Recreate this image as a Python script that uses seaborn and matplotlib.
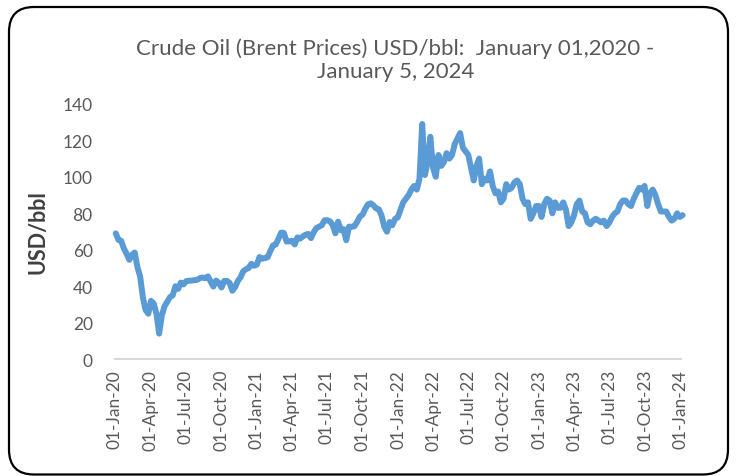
import pandas as pd
import numpy as np
import seaborn as sns
import matplotlib.pyplot as plt
import matplotlib.dates as mdates
from matplotlib.patches import FancyBboxPatch

# weekly (Friday) Brent prices, USD/bbl
p2020 = [69, 65.4, 64.9, 60.7, 57.8, 54.5, 57.3, 58.5, 50.5, 45.3, 33.9, 27, 24.9,
         32, 30.5, 25, 14, 24, 29, 31.5, 34, 35, 40, 38.5, 42, 41, 42.8, 43,
         43.1, 43.3, 43.5, 44.4, 44.8, 44.4, 45.4, 42.6, 39.8, 43.1, 41.9, 39.3,
         42.9, 42.9, 41.8, 37.5, 39.5, 42.8, 44.9, 48.2, 49.3, 50, 52.3, 51.2]
p2021 = [51.8, 56, 55.1, 55.4, 55.9, 59.3, 62.4, 62.9, 66, 69.4, 69.2, 64.5, 64.6,
         64.9, 62.9, 66.8, 66.1, 67.3, 68.3, 68.7, 66.4, 69.6, 71.9, 72.7, 73.5,
         76.2, 76.2, 75.6, 73.6, 69, 75.4, 70.7, 71.3, 65.2, 72.7, 72.6, 72.9,
         75.3, 78.1, 79.3, 82.4, 84.9, 85.5, 84.4, 82.7, 82.2, 78.9, 72.7, 69.9,
         75.2, 73.5, 76.9, 77.8]
p2022 = [82, 86, 88, 90, 93, 95, 93, 99, 129, 101, 108, 122, 105, 100, 112, 106,
         108, 113, 110, 112, 118, 121, 124, 116, 114, 112, 105, 98, 106, 110, 96,
         99, 98, 103, 95, 91, 92, 86, 88, 96, 93, 94, 97, 98, 96, 88, 85, 86, 77,
         80, 84, 84]
p2023 = [78, 85, 88, 87, 80, 86, 83, 83, 86, 82, 73, 75, 79, 85, 87, 81, 80, 75,
         74, 76, 77, 76, 75, 76, 73, 75, 78, 80, 81, 85, 87, 87, 85, 84, 88, 91,
         94, 93, 95, 84, 91, 93, 90, 85, 81, 81, 81, 78, 76, 77, 80, 78]
p2024 = [79]

prices = p2020 + p2021 + p2022 + p2023 + p2024
dates = pd.date_range('2020-01-03', periods=len(prices), freq='W-FRI')
df = pd.DataFrame({'date': dates, 'price': prices})

tick_dates = pd.date_range('2020-01-01', '2024-01-01', freq='QS')

sns.set_style('white')
plt.rcParams['font.family'] = ['Lato', 'DejaVu Sans']

fig = plt.figure(figsize=(7.37, 4.77), dpi=100)
ax = fig.add_axes([0.156, 0.245, 0.768, 0.535])

sns.lineplot(data=df, x='date', y='price', ax=ax, color='#5B9BD5',
             linewidth=4.3, clip_on=False)

ax.set_xlim(pd.Timestamp('2020-01-01'), pd.Timestamp('2024-01-01'))
ax.set_ylim(0, 140)
ax.set_yticks(range(0, 141, 20))
ax.set_xticks(tick_dates)
ax.xaxis.set_major_formatter(mdates.DateFormatter('%d-%b-%y'))
ax.tick_params(axis='x', rotation=90, labelsize=12.5, colors='#595959',
               length=5, width=1, color='#bfbfbf', pad=2)
ax.tick_params(axis='y', labelsize=12.5, colors='#595959', length=0, pad=16)

for s in ['top', 'right', 'left']:
    ax.spines[s].set_visible(False)
ax.spines['bottom'].set_color('#d9d9d9')
ax.spines['bottom'].set_linewidth(1.5)

ax.set_xlabel('')
ax.set_ylabel('USD/bbl', fontsize=15.5, color='#404040', fontweight='bold', labelpad=10)

fig.text(0.536, 0.897, 'Crude Oil (Brent Prices) USD/bbl:  January 01,2020 -',
         ha='center', va='center', fontsize=16, color='#595959')
fig.text(0.537, 0.849, 'January 5, 2024', ha='center', va='center',
         fontsize=16, color='#595959')

box = FancyBboxPatch((0.09, 0.015), 7.19, 4.675,
                     boxstyle='round,pad=0,rounding_size=0.25',
                     transform=fig.dpi_scale_trans, fill=False,
                     edgecolor='black', linewidth=1.6)
fig.patches.append(box)

fig.savefig('out.png', dpi=100)
